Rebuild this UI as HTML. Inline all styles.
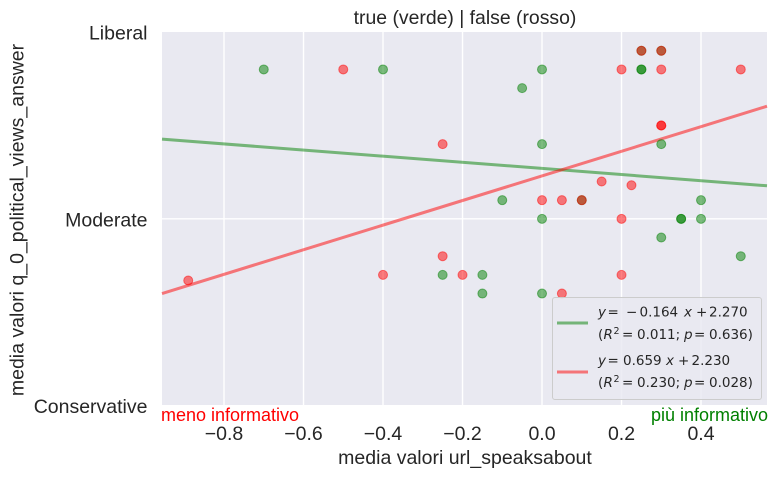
<!DOCTYPE html>
<html lang="it">
<head>
<meta charset="utf-8">
<title>true (verde) | false (rosso)</title>
<style>
html,body{margin:0;padding:0;background:#fff;width:778px;height:477px;overflow:hidden}
svg{display:block;font-family:"Liberation Sans",sans-serif}
.m{font-family:"DejaVu Sans",sans-serif;font-size:13.5px;fill:#262626}
.i{font-style:italic}
</style>
</head>
<body>
<svg id="chart" xmlns="http://www.w3.org/2000/svg" width="778" height="477" viewBox="0 0 778 477">
<rect x="162" y="32" width="605" height="373" fill="#e9e9f1"/>
<g id="grid"></g>
<g id="lines"></g>
<g id="points"></g>
<g id="ticks"></g>
<text x="465" y="24" text-anchor="middle" font-size="19.4" fill="#262626">true (verde) | false (rosso)</text>
<text x="465" y="464" text-anchor="middle" font-size="19.5" fill="#262626">media valori url_speaksabout</text>
<text x="0" y="0" transform="translate(23.5,220) rotate(-90)" text-anchor="middle" font-size="19.5" fill="#262626">media valori q_0_political_views_answer</text>
<text x="161" y="421" font-size="18" fill="#ff0000">meno informativo</text>
<text x="768" y="421" text-anchor="end" font-size="18" fill="#008000">più informativo</text>
<g>
<rect x="552.5" y="297.5" width="209" height="102" rx="2.5" fill="#e9e9f1" fill-opacity="0.8" stroke="#cccccc" stroke-width="1"/>
<line x1="557" x2="588" y1="323" y2="323" stroke="#008000" stroke-opacity="0.5" stroke-width="3"/>
<text class="m" y="316.5"><tspan class="i" x="598">y</tspan><tspan x="607.5">=</tspan><tspan x="626">−</tspan><tspan x="639.5">0.164</tspan><tspan class="i" x="684">x</tspan><tspan x="696">+</tspan><tspan x="709">2.270</tspan></text>
<text class="m" y="339"><tspan x="598">(</tspan><tspan class="i" x="603.5">R</tspan><tspan font-size="9.5" x="613.5" dy="-5">2</tspan><tspan x="622" dy="5">=</tspan><tspan x="637">0.011;</tspan><tspan class="i" x="684">p</tspan><tspan x="694">=</tspan><tspan x="709">0.636)</tspan></text>
<line x1="557" x2="588" y1="372" y2="372" stroke="#ff0000" stroke-opacity="0.5" stroke-width="3"/>
<text class="m" y="365"><tspan class="i" x="598">y</tspan><tspan x="607.5">=</tspan><tspan x="623">0.659</tspan><tspan class="i" x="666">x</tspan><tspan x="678">+</tspan><tspan x="691.5">2.230</tspan></text>
<text class="m" y="387"><tspan x="598">(</tspan><tspan class="i" x="603.5">R</tspan><tspan font-size="9.5" x="613.5" dy="-5">2</tspan><tspan x="622" dy="5">=</tspan><tspan x="637">0.230;</tspan><tspan class="i" x="684">p</tspan><tspan x="694">=</tspan><tspan x="709">0.028)</tspan></text>
</g>
</svg>
<script>
const trueX = [-0.7,-0.4,0,-0.05,0,0.3,0.25,0.25,0.25,0.3,0.1,-0.1,0,0.35,0.35,0.4,0.4,0.3,0.5,-0.25,-0.15,-0.15,0];
const trueY = [2.8,2.8,2.8,2.7,2.4,2.4,2.8,2.8,2.9,2.9,2.1,2.1,2,2,2,2,2.1,1.9,1.8,1.7,1.7,1.6,1.6];
const falseX = [-0.5,0.2,0.3,0.5,0.25,0.3,0.3,0.3,-0.25,0.15,0.225,0,0.05,0.1,0.2,-0.25,-0.4,-0.2,0.2,0.05,-0.89];
const falseY = [2.8,2.8,2.8,2.8,2.9,2.9,2.5,2.5,2.4,2.2,2.18,2.1,2.1,2.1,2,1.8,1.7,1.7,1.7,1.6,1.67];
const trueFit = [-0.164, 2.270];
const falseFit = [0.659, 2.230];
const xTicks = [-0.8,-0.6,-0.4,-0.2,0,0.2,0.4];
const yTicks = [1,2,3];
const yTickLabels = ['Conservative','Moderate','Liberal'];
const xDomain = [-0.956,0.566];

const NS = 'http://www.w3.org/2000/svg';
function sx(v){ return 162 + (v - xDomain[0]) / (xDomain[1] - xDomain[0]) * 605; }
function sy(v){ return 405.6 - (v - 1) / 2 * 373.5; }
function make(tag, parent, attrs){
  const el = document.createElementNS(NS, tag);
  for (const k in attrs) el.setAttribute(k, attrs[k]);
  parent.appendChild(el);
  return el;
}
const gridG = document.getElementById('grid');
const tickG = document.getElementById('ticks');
const lineG = document.getElementById('lines');
const pointG = document.getElementById('points');

xTicks.forEach(function(t){
  const g = make('line', gridG, {x1:sx(t), x2:sx(t), y1:32, y2:405, stroke:'#fff', 'stroke-width':1.4});
  
  
  const l = make('text', tickG, {x:sx(t), y:440, 'text-anchor':'middle', 'font-size':19.5, fill:'#262626'});
  
  
  l.textContent = (t < 0 ? '\u2212' : '') + Math.abs(t).toFixed(1);
});
yTicks.forEach(function(t, i){
  if (t > 1 && t < 3) {
    const g = make('line', gridG, {x1:162, x2:767, y1:sy(t), y2:sy(t), stroke:'#fff', 'stroke-width':1.4});
    
    
  }
  const l = make('text', tickG, {x:147.5, y:sy(t) + 7.4, 'text-anchor':'end', 'font-size':19.5, fill:'#262626'});
  
  
  l.textContent = yTickLabels[i];
});

function drawPoints(xs, ys, color, name){
  xs.forEach(function(x, i){
    const c = make('circle', pointG, {cx:sx(x), cy:sy(ys[i]), r:4.5, fill:color, 'fill-opacity':0.5, stroke:color, 'stroke-opacity':0.5, 'stroke-width':1});
    
    
  });
}
function drawFit(fit, color, name){
  const y0 = fit[0] * xDomain[0] + fit[1];
  const y1 = fit[0] * xDomain[1] + fit[1];
  const l = make('line', lineG, {x1:sx(xDomain[0]), y1:sy(y0), x2:sx(xDomain[1]), y2:sy(y1), stroke:color, 'stroke-opacity':0.5, 'stroke-width':3});
  
  
}
drawPoints(trueX, trueY, '#008000', 'point-true');
drawPoints(falseX, falseY, '#ff0000', 'point-false');
drawFit(trueFit, '#008000', 'fit-line-true');
drawFit(falseFit, '#ff0000', 'fit-line-false');
</script>
</body>
</html>
